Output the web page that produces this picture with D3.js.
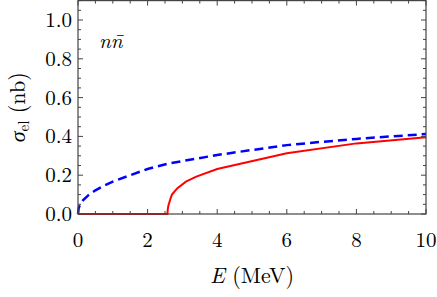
<!DOCTYPE html>
<html>
<head>
<meta charset="utf-8">
<script src="https://cdn.jsdelivr.net/npm/d3@7"></script>
<style>
body { margin: 0; background: #fff; }
</style>
</head>
<body>
<script>
// values
var xTicks = [0, 2, 4, 6, 8, 10];
var yTicks = [0.0, 0.2, 0.4, 0.6, 0.8, 1.0];

// blue dashed curve (E, sigma)
var blueE = [0, 0.02, 0.05, 0.15, 0.3, 0.5, 0.75, 1, 1.5, 2, 2.6, 3, 4, 5, 6, 7, 8, 9, 10];
var blueS = [0, 0.03, 0.045, 0.072, 0.097, 0.122, 0.146, 0.167, 0.2, 0.232, 0.26, 0.273, 0.304, 0.33, 0.355, 0.372, 0.387, 0.4, 0.412];

// red solid curve
var redE = [0, 2.57, 2.58, 2.6, 2.65, 2.7, 2.85, 3.1, 3.4, 4, 6, 8, 10];
var redS = [0, 0, 0.025, 0.045, 0.075, 0.1, 0.132, 0.167, 0.193, 0.232, 0.313, 0.364, 0.395];

var W = 437, H = 297;
var mLeft = 78, mRight = 426, mBottom = 214, mTop = 20;
var FONT = "'Latin Modern Roman', 'Liberation Serif', serif";

var svg = d3.select("body").append("svg")
    .attr("width", W)
    .attr("height", H);

var x = d3.scaleLinear().domain([0, 10]).range([mLeft, mRight]);
var y = d3.scaleLinear().domain([0, 1]).range([mBottom, mTop]);
var yMax = 1.1;

var line = d3.line().x(d => x(d[0])).y(d => y(d[1]));

var blue = blueE.map((e, i) => [e, blueS[i]]);
var red = redE.map((e, i) => [e, redS[i]]);

svg.append("path")
    .datum(red)
    .attr("d", line)
    .attr("fill", "none")
    .attr("stroke", "#ff0000")
    .attr("stroke-width", 2);

svg.append("path")
    .datum(blue)
    .attr("d", line)
    .attr("fill", "none")
    .attr("stroke", "#0000ff")
    .attr("stroke-width", 2.5)
    .attr("stroke-dasharray", "9,5");

// frame
var frame = svg.append("g");
frame.append("rect")
    .attr("x", x(0))
    .attr("y", y(yMax))
    .attr("width", x(10) - x(0))
    .attr("height", y(0) - y(yMax))
    .attr("fill", "none")
    .attr("stroke", "#444")
    .attr("stroke-width", 1.2);

// ticks on all four sides, pointing inward
var xMinor = d3.range(0, 10.01, 0.5);
var yMinor = d3.range(0, 1.101, 0.05);
var tk = frame.append("g").attr("stroke", "#444").attr("stroke-width", 1);

xMinor.forEach(function(v) {
    var major = Math.abs(v / 2 - Math.round(v / 2)) < 1e-6;
    var len = major ? 5 : 3;
    tk.append("line").attr("x1", x(v)).attr("x2", x(v)).attr("y1", y(0)).attr("y2", y(0) - len);
    tk.append("line").attr("x1", x(v)).attr("x2", x(v)).attr("y1", y(yMax)).attr("y2", y(yMax) + len);
});
yMinor.forEach(function(v) {
    var major = Math.abs(v / 0.2 - Math.round(v / 0.2)) < 1e-6;
    var len = major ? 5 : 3;
    tk.append("line").attr("y1", y(v)).attr("y2", y(v)).attr("x1", x(0)).attr("x2", x(0) + len);
    tk.append("line").attr("y1", y(v)).attr("y2", y(v)).attr("x1", x(10)).attr("x2", x(10) - len);
});

// tick labels
svg.append("g").selectAll("text")
    .data(xTicks).enter().append("text")
    .attr("x", d => x(d))
    .attr("y", 247)
    .attr("text-anchor", "middle")
    .style("font-family", FONT)
    .style("font-size", "21px")
    .text(d => d);

svg.append("g").selectAll("text")
    .data(yTicks).enter().append("text")
    .attr("x", x(0) - 6)
    .attr("y", d => y(d) + 7)
    .attr("text-anchor", "end")
    .style("font-family", FONT)
    .style("font-size", "21px")
    .text(d => d.toFixed(1));

// axis titles
svg.append("text")
    .attr("x", (mLeft + mRight) / 2)
    .attr("y", 283)
    .attr("text-anchor", "middle")
    .style("font-family", FONT)
    .style("font-size", "22px")
    .html('<tspan font-style="italic">E</tspan> (MeV)');

svg.append("text")
    .attr("transform", "translate(25," + ((mBottom + y(yMax)) / 2) + ") rotate(-90)")
    .attr("text-anchor", "middle")
    .style("font-family", FONT)
    .style("font-size", "22px")
    .html('<tspan font-style="italic">σ</tspan><tspan font-size="15" dy="4">el</tspan><tspan dy="-4"> (nb)</tspan>');

svg.append("text")
    .attr("x", 99)
    .attr("y", 48)
    .style("font-family", FONT)
    .style("font-size", "21px")
    .style("font-style", "italic")
    .text("nn\u0304");
</script>
</body>
</html>
